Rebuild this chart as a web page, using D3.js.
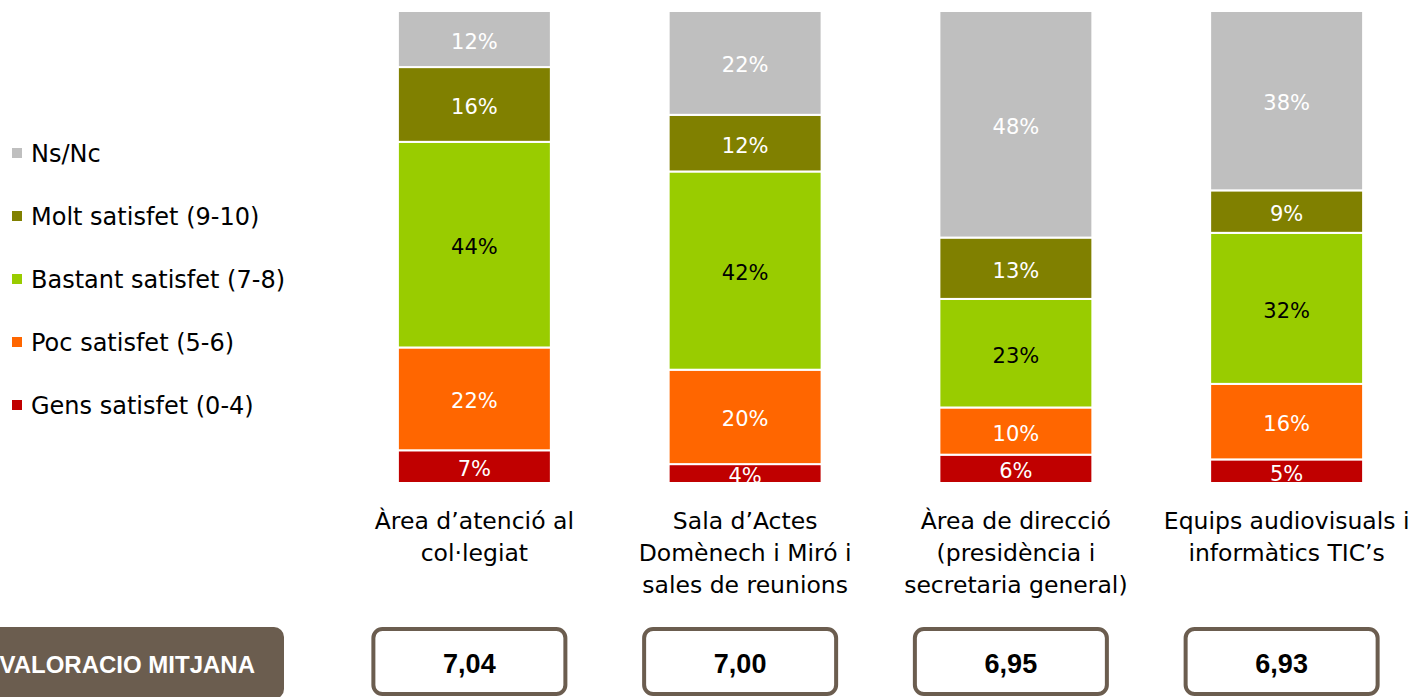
<!DOCTYPE html>
<html>
<head>
<meta charset="utf-8">
<script src="https://cdn.jsdelivr.net/npm/d3@7"></script>
<style>
  body { margin: 0; background: #fff; }
  svg { display: block; }
</style>
</head>
<body>
<svg id="chart" width="1420" height="697"></svg>
<script>
// data
const categories = [
  ["Àrea d’atenció al", "col·legiat"],
  ["Sala d’Actes", "Domènech i Miró i", "sales de reunions"],
  ["Àrea de direcció", "(presidència i", "secretaria general)"],
  ["Equips audiovisuals i", "informàtics TIC’s"]
]
const series_keys = ["gens", "poc", "bastant", "molt", "nsnc"]
const series_names = ["Gens satisfet (0-4)", "Poc satisfet (5-6)", "Bastant satisfet (7-8)", "Molt satisfet (9-10)", "Ns/Nc"]
const series_colors = ["#c00000", "#ff6600", "#99cc00", "#808000", "#bfbfbf"]
const gens = [7, 4, 6, 5]
const poc = [22, 20, 10, 16]
const bastant = [44, 42, 23, 32]
const molt = [16, 12, 13, 9]
const nsnc = [12, 22, 48, 38]
const mean_values = ["7,04", "7,00", "6,95", "6,93"]
const mean_label = "VALORACIO MITJANA"

const font = "'Century Gothic', 'DejaVu Sans', sans-serif"

const svg = d3.select("#chart"),
  margin = {top: 11, bottom: 214, left: 340, right: 0},
  plot_bottom = 483

const rows = categories.map((c, i) => ({
  idx: i, gens: gens[i], poc: poc[i], bastant: bastant[i], molt: molt[i], nsnc: nsnc[i]
}))

const stack = d3.stack().keys(series_keys).offset(d3.stackOffsetExpand)
const stacked = stack(rows)

const x = d3.scaleBand().domain(d3.range(categories.length)).range([339, 1422]).paddingInner(0.435).paddingOuter(0.2175)
const y = d3.scaleLinear().domain([0, 1]).range([plot_bottom, margin.top])

svg.append("clipPath").attr("id", "plotclip")
  .append("rect").attr("x", 0).attr("y", 0).attr("width", 1420).attr("height", plot_bottom + 1)

const plot = svg.append("g").attr("clip-path", "url(#plotclip)")

const layer = plot.selectAll("g.layer")
  .data(stacked)
  .enter().append("g")
  .attr("class", "layer")
  .attr("fill", (d, i) => series_colors[i])

layer.selectAll("rect")
  .data(d => d)
  .enter().append("rect")
  .attr("x", d => x(d.data.idx))
  .attr("width", x.bandwidth())
  .attr("y", d => y(d[1]))
  .attr("height", d => y(d[0]) - y(d[1]))
  .attr("stroke", "#fff")
  .attr("stroke-width", 2)

stacked.forEach((s, si) => {
  plot.selectAll("text.lbl" + si)
    .data(s)
    .enter().append("text")
    .attr("class", "lbl" + si)
    .attr("x", d => x(d.data.idx) + x.bandwidth() / 2)
    .attr("y", d => (y(d[0]) + y(d[1])) / 2 + 2)
    .attr("dy", "0.36em")
    .attr("text-anchor", "middle")
    .attr("font-family", font)
    .attr("font-size", 21)
    .attr("fill", s.key == "bastant" ? "#000" : "#fff")
    .text(d => d.data[s.key] + "%")
})

// category labels under the bars
categories.forEach((lines, i) => {
  const t = svg.append("text")
    .attr("x", x(i) + x.bandwidth() / 2)
    .attr("y", 529)
    .attr("text-anchor", "middle")
    .attr("font-family", font)
    .attr("font-size", 23.5)
    .attr("fill", "#000")
  lines.forEach((ln, j) => {
    t.append("tspan").attr("x", x(i) + x.bandwidth() / 2).attr("dy", j == 0 ? 0 : 32).text(ln)
  })
})

// legend, top entry is Ns/Nc
const legend_order = [4, 3, 2, 1, 0]
legend_order.forEach((si, k) => {
  const cy = 153 + k * 63
  svg.append("rect").attr("x", 12).attr("y", cy - 5).attr("width", 10).attr("height", 10)
    .attr("fill", series_colors[si])
  svg.append("text").attr("x", 31).attr("y", cy).attr("dy", "0.36em")
    .attr("font-family", font).attr("font-size", 24).attr("fill", "#000")
    .text(series_names[si])
})

// mean score row
svg.append("rect").attr("x", -20).attr("y", 627).attr("width", 304).attr("height", 72)
  .attr("rx", 10).attr("fill", "#6b5d4f")
svg.append("text").attr("x", 255).attr("y", 664).attr("dy", "0.36em")
  .attr("text-anchor", "end")
  .attr("font-family", "'Liberation Sans', Arial, sans-serif").attr("font-weight", "bold")
  .attr("font-size", 24).attr("fill", "#fff")
  .text(mean_label)

mean_values.forEach((v, i) => {
  const cx = x(i) + x.bandwidth() / 2 - 5
  svg.append("rect").attr("x", cx - 96).attr("y", 629).attr("width", 192).attr("height", 65)
    .attr("rx", 9).attr("fill", "#fff").attr("stroke", "#6b5d4f").attr("stroke-width", 4)
  svg.append("text").attr("x", cx).attr("y", 663).attr("dy", "0.36em")
    .attr("text-anchor", "middle")
    .attr("font-family", "'Liberation Sans Narrow', 'Liberation Sans', Arial, sans-serif")
    .attr("font-weight", "bold").attr("font-size", 27).attr("fill", "#000")
    .text(v)
})
</script>
</body>
</html>
